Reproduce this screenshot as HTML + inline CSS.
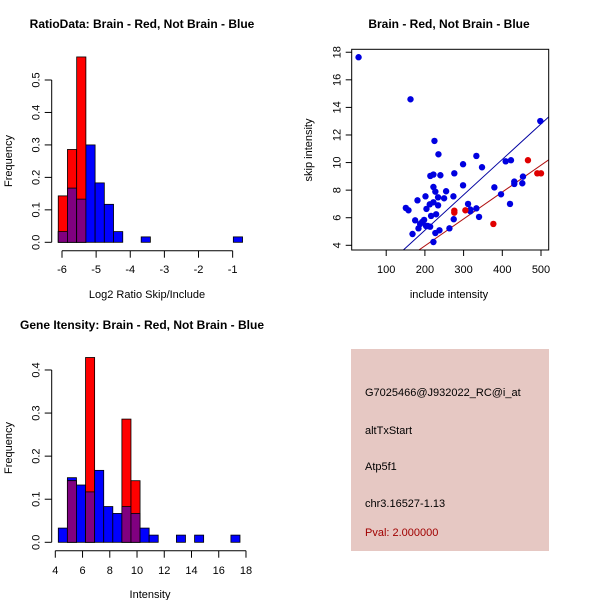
<!DOCTYPE html>
<html><head><meta charset="utf-8"><style>
body{margin:0;background:#fff}
svg{display:block;font-family:"Liberation Sans",sans-serif}
</style></head><body>
<svg id="s" width="600" height="600" viewBox="0 0 600 600">
<rect width="600" height="600" fill="#fff"/>
<g font-weight="bold" font-size="12" text-anchor="middle">
<text x="142" y="28">RatioData: Brain - Red, Not Brain - Blue</text>
<text x="449" y="28">Brain - Red, Not Brain - Blue</text>
<text x="142" y="329">Gene Itensity: Brain - Red, Not Brain - Blue</text>
</g>
<g font-size="11" text-anchor="middle">
<text x="147" y="298">Log2 Ratio Skip/Include</text>
<text transform="translate(12,161) rotate(-90)">Frequency</text>
<text x="449" y="298">include intensity</text>
<text transform="translate(312,150) rotate(-90)">skip intensity</text>
<text x="150" y="598">Intensity</text>
<text transform="translate(12,448) rotate(-90)">Frequency</text>
</g>
<g id="p1"></g><g id="p2"></g><g id="p3"></g>
<g>
<rect x="351" y="349" width="198" height="202" fill="#e6c8c3"/>
<g font-size="11" fill="#000">
<text x="365" y="396">G7025466@J932022_RC@i_at</text>
<text x="365" y="434">altTxStart</text>
<text x="365" y="470">Atp5f1</text>
<text x="365" y="507">chr3.16527-1.13</text>
<text x="365" y="536" fill="#a00000">Pval: 2.000000</text>
</g></g>
</svg>
<script>
// Ratio histogram data
const ratioStart = -6.11, ratioWidth = 0.27;
const ratioBlue = [0.033,0.167,0.133,0.30,0.183,0.117,0.033,0,0,0.0167,0,0,0,0,0,0,0,0,0,0.0167];
const ratioRed = [0.143,0.286,0.571];
const ratioXTicks = [-6,-5,-4,-3,-2,-1];
const ratioYTicks = ["0.0","0.1","0.2","0.3","0.4","0.5"];
// Intensity histogram data
const intStart = 4.22, intWidth = 0.667;
const intBlue = [0.033,0.15,0.133,0.117,0.167,0.083,0.067,0.083,0.067,0.033,0.0167,0,0,0.0167,0,0.0167,0,0,0,0.0167];
const intRed = [0,0.143,0,0.429,0,0,0,0.286,0.143];
const intXTicks = [4,6,8,10,12,14,16,18];
const intYTicks = ["0.0","0.1","0.2","0.3","0.4"];
// Scatter data
const blueX = [28.6,162.8,224.7,235,333,298.6,347.6,276,222,214,240,298.6,222,227,254.8,201.5,234,249.6,273.7,180.8,212.5,222,234,311.5,150.7,157.6,204,317.5,333,339.9,317.5,229,216,274.5,174.8,198,192.9,187.7,183.4,203,213.5,207.5,237.6,263.4,227,168,222,379.5,396.7,408.7,422.4,431,431,419.9,451.7,453.4,498.2];
const blueY = [17.64,14.59,11.57,10.6,10.48,9.88,9.66,9.22,9.13,9.03,9.08,8.35,8.23,7.89,7.92,7.55,7.48,7.41,7.55,7.26,6.97,7.12,6.9,7.0,6.71,6.54,6.64,6.59,6.68,6.06,6.47,6.25,6.13,5.89,5.81,5.84,5.69,5.55,5.23,5.4,5.35,5.4,5.09,5.23,4.89,4.82,4.24,8.2,7.7,10.09,10.17,8.45,8.62,7.0,8.5,8.98,13.01];
const redX = [276,276,304.6,376.9,466.3,490.4,500];
const redY = [6.51,6.37,6.54,5.55,10.17,9.22,9.22];
const blueFit = [-0.05,0.0257];
const redFit = [0.06,0.0195];
const scXTicks = [100,200,300,400,500];
const scYTicks = [4,6,8,10,12,14,16,18];

const NS="http://www.w3.org/2000/svg";
function mk(parent,tag,attrs){const e=document.createElementNS(NS,tag);for(const k in attrs)e.setAttribute(k,attrs[k]);parent.appendChild(e);return e;}

function hist(g,start,w,blue,red,xs,ys,sx,sy,xTicks,yTicks,axY,axX,labY,pre){
  const n=Math.max(blue.length,red.length);
  for(let i=0;i<n;i++){
    const b=blue[i]||0,r=red[i]||0;
    const x0=sx(start+i*w),x1=sx(start+(i+1)*w);
    if(b>0){const e=mk(g,'rect',{x:x0,y:sy(b),width:x1-x0,height:sy(0)-sy(b),fill:'#0000ff',stroke:'#000','stroke-width':0.8});
      
      }
    if(r>0){const e=mk(g,'rect',{x:x0,y:sy(r),width:x1-x0,height:sy(0)-sy(r),fill:'#ff0000',stroke:'#000','stroke-width':0.8});
      
      }
    const m=Math.min(b,r);
    if(m>0){const e=mk(g,'rect',{x:x0,y:sy(m),width:x1-x0,height:sy(0)-sy(m),fill:'#800080',stroke:'#000','stroke-width':0.8});
      
      }
  }
  mk(g,'line',{x1:sx(xTicks[0]),x2:sx(xTicks[xTicks.length-1]),y1:axY,y2:axY,stroke:'#000'});
  xTicks.forEach(t=>{mk(g,'line',{x1:sx(t),x2:sx(t),y1:axY,y2:axY+7,stroke:'#000'});
    const tx=mk(g,'text',{x:sx(t),y:labY,'font-size':11,'text-anchor':'middle'});tx.textContent=t;
    
    });
  mk(g,'line',{x1:axX,x2:axX,y1:sy(+yTicks[0]),y2:sy(+yTicks[yTicks.length-1]),stroke:'#000'});
  yTicks.forEach(t=>{const y=sy(+t);mk(g,'line',{x1:axX-7,x2:axX,y1:y,y2:y,stroke:'#000'});
    const tx=mk(g,'text',{transform:`translate(${axX-12},${y}) rotate(-90)`,'font-size':11,'text-anchor':'middle'});tx.textContent=t;
    
    });
}
const g1=document.getElementById('p1');


hist(g1,ratioStart,ratioWidth,ratioBlue,ratioRed,null,null,v=>62+(v+6)*34.13,v=>242.3-v*324.6,ratioXTicks,ratioYTicks,250.7,51.7,273,'ratio');
const g3=document.getElementById('p3');


hist(g3,intStart,intWidth,intBlue,intRed,null,null,v=>55.3+(v-4)*13.62,v=>542.3-v*430.8,intXTicks,intYTicks,550.7,51.7,574,'intensity');

// scatter
const g2=document.getElementById('p2');


const X=v=>502.3+(v-400)*0.387, Y=v=>245.3-(v-4)*13.79;
const L=351.7,R=548.7,T=49.3,B=250;
mk(g2,'defs',{}).innerHTML='<clipPath id="cp"><rect x="'+L+'" y="'+T+'" width="'+(R-L)+'" height="'+(B-T)+'"/></clipPath>';
const cg=mk(g2,'g',{'clip-path':'url(#cp)'});
[[blueFit,'#0000a0','blue-fit-line'],[redFit,'#b01010','red-fit-line']].forEach(([f,c,n])=>{
  const l=mk(cg,'line',{x1:X(0),y1:Y(f[0]),x2:X(600),y2:Y(f[0]+f[1]*600),stroke:c,'stroke-width':1});
  
  });
blueX.forEach((x,i)=>{const c=mk(cg,'circle',{cx:X(x),cy:Y(blueY[i]),r:3.2,fill:'#0000e0'});
  
  });
redX.forEach((x,i)=>{const c=mk(cg,'circle',{cx:X(x),cy:Y(redY[i]),r:3.2,fill:'#e00000'});
  
  });
mk(g2,'rect',{x:L,y:T,width:R-L,height:B-T,fill:'none',stroke:'#000'});
scXTicks.forEach(t=>{mk(g2,'line',{x1:X(t),x2:X(t),y1:B,y2:B+6,stroke:'#000'});
  const tx=mk(g2,'text',{x:X(t),y:273,'font-size':11,'text-anchor':'middle'});tx.textContent=t;
  
  });
scYTicks.forEach(t=>{mk(g2,'line',{x1:L-6,x2:L,y1:Y(t),y2:Y(t),stroke:'#000'});
  const tx=mk(g2,'text',{transform:`translate(${L-11},${Y(t)}) rotate(-90)`,'font-size':11,'text-anchor':'middle'});tx.textContent=t;
  
  });
</script>
</body></html>
